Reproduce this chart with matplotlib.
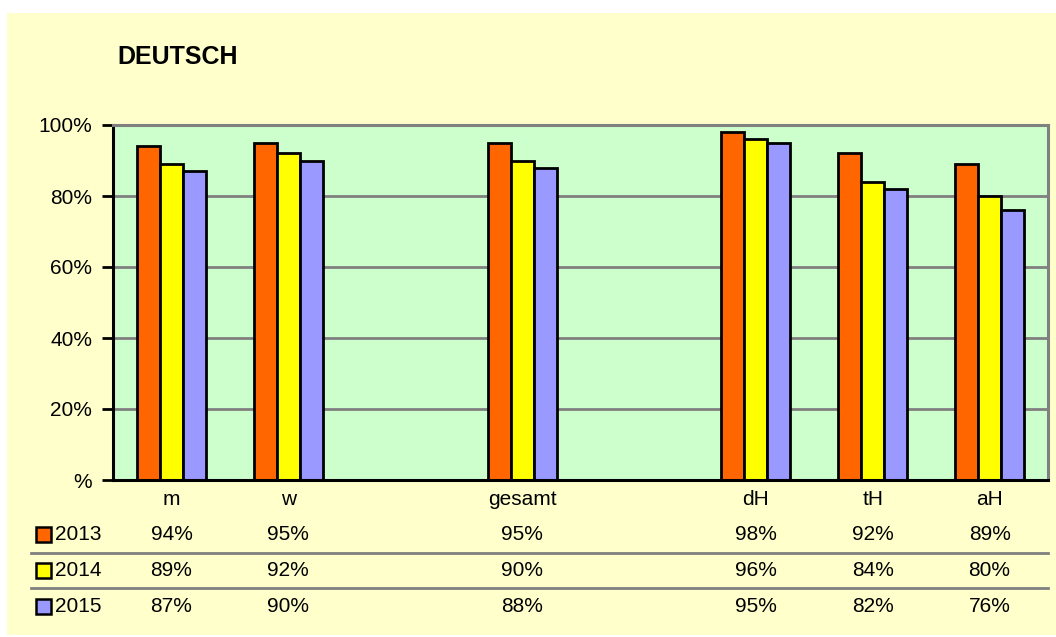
import numpy as np
import matplotlib.pyplot as plt
from matplotlib.patches import Rectangle
from matplotlib.transforms import blended_transform_factory

plt.rcParams['font.family'] = ['Liberation Sans', 'DejaVu Sans']

categories = ['m', 'w', '', 'gesamt', '', 'dH', 'tH', 'aH']
years = ['2013', '2014', '2015']
v2013 = [94, 95, np.nan, 95, np.nan, 98, 92, 89]
v2014 = [89, 92, np.nan, 90, np.nan, 96, 84, 80]
v2015 = [87, 90, np.nan, 88, np.nan, 95, 82, 76]
series = [v2013, v2014, v2015]
colors = ['#FF6600', '#FFFF00', '#9999FF']

W, H = 1056, 637
fig = plt.figure(figsize=(W / 100, H / 100), dpi=100)
fig.patch.set_facecolor('white')

# chart area background
fig.add_artist(Rectangle((7 / W, 2 / H), 1 - 7 / W, 1 - 15 / H,
                         transform=fig.transFigure, facecolor='#FFFFCC',
                         edgecolor='none', zorder=-10))

ax = fig.add_axes([113 / W, 1 - 480 / H, (1048 - 113) / W, (480 - 125) / H])
ax.set_zorder(2)
ax.set_facecolor('#CCFFCC')

x = np.arange(len(categories))
bw = 0.197
for i, (vals, c) in enumerate(zip(series, colors)):
    ax.bar(x + (i - 1) * bw, vals, bw, color=c, edgecolor='black',
           linewidth=2.0, zorder=3)

ax.set_xlim(-0.5, len(categories) - 0.5)
ax.set_ylim(0, 100)
ax.set_yticks(np.arange(0, 101, 20))
ax.set_yticklabels(['%'] + ['%d%%' % v for v in range(20, 101, 20)], fontsize=15)
ax.yaxis.grid(True, color='#808080', linewidth=2, zorder=1)
ax.set_axisbelow(True)
ax.tick_params(axis='y', length=8, width=2, pad=7, direction='out')
ax.set_xticks(x)
ax.set_xticklabels(categories, fontsize=15)
ax.tick_params(axis='x', length=0, pad=7)

for s in ['left', 'bottom']:
    ax.spines[s].set_color('black')
    ax.spines[s].set_linewidth(2.2)
for s in ['top', 'right']:
    ax.spines[s].set_color('#808080')
    ax.spines[s].set_linewidth(2.2)
ax.spines['bottom'].set_zorder(5)

fig.text(117 / W, 1 - 57 / H, 'DEUTSCH', fontsize=18, fontweight='bold',
         va='center', ha='left')

# data table
tr = blended_transform_factory(ax.transData, fig.transFigure)
row_y = [534, 570, 606]
for yr, vals, c, ry in zip(years, series, colors, row_y):
    fig.add_artist(Rectangle((36 / W, 1 - (ry + 7.5) / H), 15 / W, 15 / H,
                             transform=fig.transFigure, facecolor=c,
                             edgecolor='black', linewidth=1.8, zorder=3))
    fig.text(55 / W, 1 - ry / H, yr, fontsize=15, va='center', ha='left')
    for xi, v in zip(x, vals):
        if not np.isnan(v):
            ax.text(xi, 1 - ry / H, '%d%%' % v, transform=tr, fontsize=15,
                    ha='center', va='center', clip_on=False)

for ly in [553, 588]:
    fig.add_artist(plt.Line2D([31 / W, 1048 / W], [1 - ly / H, 1 - ly / H],
                              transform=fig.transFigure, color='#808080',
                              linewidth=2))

fig.savefig('out.png', dpi=100, facecolor=fig.get_facecolor())
